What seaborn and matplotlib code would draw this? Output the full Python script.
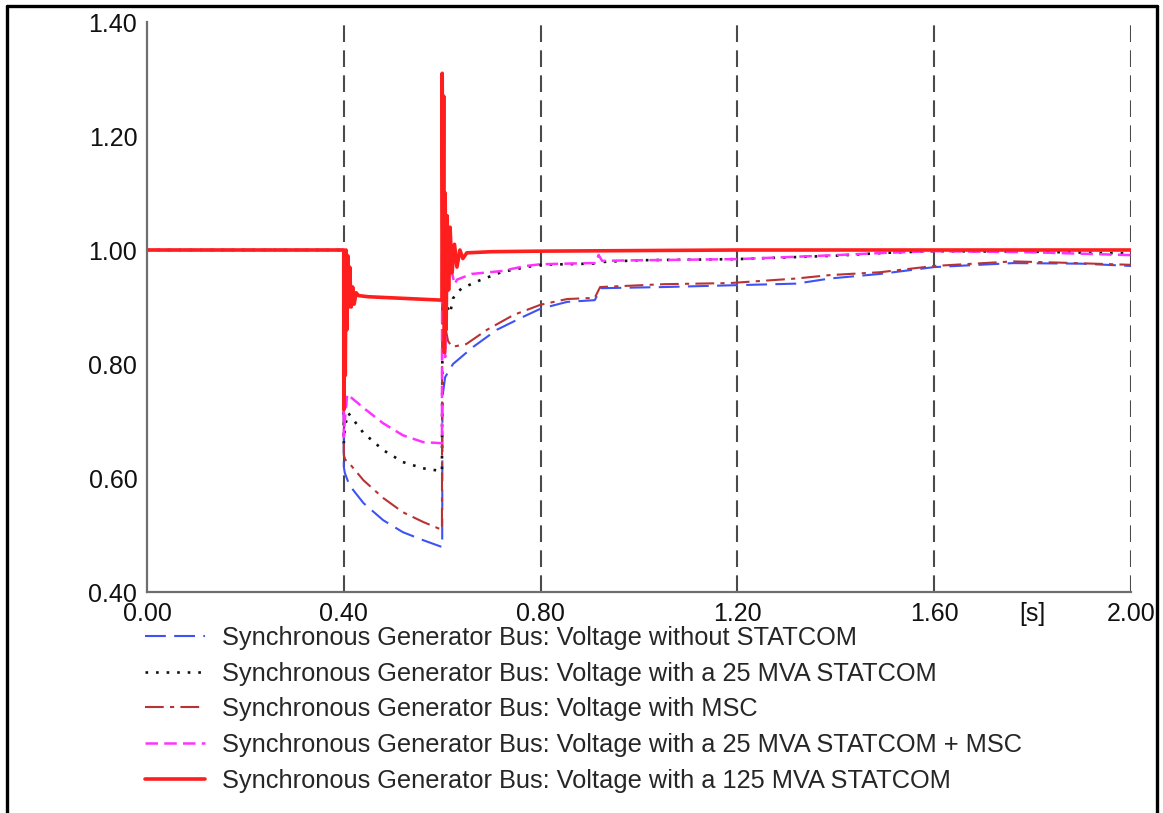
import numpy as np
import pandas as pd
import matplotlib
matplotlib.use("Agg")
import matplotlib.pyplot as plt
from matplotlib.lines import Line2D
import seaborn as sns

# Bus voltage (p.u.) versus time (s) for the five compensation cases
t_none = [0, 0.3999, 0.4, 0.402, 0.409, 0.419, 0.44, 0.48, 0.52, 0.561, 0.5995,
          0.6, 0.6005, 0.606, 0.622, 0.663, 0.711, 0.765, 0.8, 0.854, 0.91, 0.923,
          1.05, 1.185, 1.32, 1.388, 1.49, 1.6, 1.76, 1.9, 2.0]
v_none = [1.0, 1.0, 0.62, 0.609, 0.593, 0.579, 0.556, 0.526, 0.505, 0.491, 0.479,
          0.479, 0.742, 0.777, 0.80, 0.83, 0.86, 0.883, 0.897, 0.909, 0.912, 0.933,
          0.935, 0.938, 0.941, 0.95, 0.958, 0.97, 0.977, 0.976, 0.972]

t_st25 = [0, 0.3999, 0.4, 0.402, 0.405, 0.409, 0.44, 0.48, 0.52, 0.561, 0.5995,
          0.6, 0.6015, 0.605, 0.61, 0.616, 0.622, 0.63, 0.64, 0.677, 0.72, 0.77,
          0.8, 0.9, 0.912, 0.918, 0.925, 1.0, 1.2, 1.4, 1.5, 1.6, 1.8, 2.0]
v_st25 = [1.0, 1.0, 0.66, 0.69, 0.70, 0.714, 0.679, 0.649, 0.628, 0.617, 0.612,
          0.75, 1.035, 0.97, 0.90, 0.889, 0.915, 0.925, 0.933, 0.947, 0.961, 0.970,
          0.974, 0.976, 0.976, 0.990, 0.979, 0.982, 0.984, 0.990, 0.995, 0.998, 0.997, 0.994]

t_msc = [0, 0.3999, 0.4, 0.403, 0.409, 0.44, 0.48, 0.52, 0.561, 0.5995,
         0.6, 0.605, 0.612, 0.62, 0.649, 0.691, 0.745, 0.8, 0.854, 0.91, 0.921,
         1.05, 1.185, 1.32, 1.388, 1.49, 1.6, 1.76, 1.85, 2.0]
v_msc = [1.0, 1.0, 0.64, 0.632, 0.628, 0.596, 0.565, 0.54, 0.523, 0.509,
         0.97, 0.87, 0.84, 0.83, 0.835, 0.86, 0.886, 0.904, 0.914, 0.916, 0.935,
         0.94, 0.942, 0.95, 0.956, 0.961, 0.972, 0.98, 0.978, 0.974]

t_st25_msc = [0, 0.3999, 0.4, 0.402, 0.407, 0.44, 0.48, 0.52, 0.561, 0.5995,
              0.6, 0.603, 0.606, 0.609, 0.612, 0.62, 0.625, 0.63, 0.66, 0.72, 0.77,
              0.8, 0.9, 0.912, 0.918, 0.925, 1.0, 1.2, 1.4, 1.5, 1.6, 1.8, 2.0]
v_st25_msc = [1.0, 1.0, 0.672, 0.70, 0.747, 0.723, 0.696, 0.675, 0.663, 0.661,
              1.18, 0.95, 0.812, 0.92, 0.96, 0.96, 0.94, 0.948, 0.958, 0.963, 0.972,
              0.975, 0.977, 0.977, 0.991, 0.981, 0.982, 0.984, 0.991, 0.995, 0.998, 0.996, 0.991]

t_st125 = [0, 0.3999, 0.4, 0.4015, 0.403, 0.4045, 0.406, 0.408, 0.41, 0.412, 0.415,
           0.418, 0.421, 0.425, 0.43, 0.45, 0.5, 0.55, 0.5995, 0.6, 0.6015, 0.603,
           0.6045, 0.606, 0.608, 0.61, 0.613, 0.616, 0.62, 0.625, 0.63, 0.636, 0.642,
           0.65, 0.7, 0.8, 1.2, 2.0]
v_st125 = [1.0, 1.0, 0.72, 0.99, 0.78, 1.0, 0.86, 0.99, 0.90, 0.97, 0.90,
           0.935, 0.905, 0.925, 0.92, 0.918, 0.916, 0.914, 0.912, 1.31, 0.95, 1.27,
           0.82, 1.10, 0.86, 1.06, 0.93, 1.04, 0.96, 1.01, 0.97, 1.0, 0.985,
           0.995, 0.997, 0.998, 1.0, 1.0]

labels = [
    "Synchronous Generator Bus: Voltage without STATCOM",
    "Synchronous Generator Bus: Voltage with a 25 MVA STATCOM",
    "Synchronous Generator Bus: Voltage with MSC",
    "Synchronous Generator Bus: Voltage with a 25 MVA STATCOM + MSC",
    "Synchronous Generator Bus: Voltage with a 125 MVA STATCOM",
]

x_ticks = [0.0, 0.4, 0.8, 1.2, 1.6, 1.8, 2.0]
x_ticklabels = ["0.00", "0.40", "0.80", "1.20", "1.60", "[s]", "2.00"]
y_ticks = [0.4, 0.6, 0.8, 1.0, 1.2, 1.4]
y_ticklabels = ["0.40", "0.60", "0.80", "1.00", "1.20", "1.40"]

series = [
    (t_none, v_none, "#3f52f5", (0, (10, 4)), 1.5),
    (t_st25, v_st25, "#111111", (0, (1, 3)), 1.9),
    (t_msc, v_msc, "#b83434", (0, (9, 3, 2, 3)), 1.5),
    (t_st25_msc, v_st25_msc, "#ff33ff", (0, (5, 2.5)), 1.8),
    (t_st125, v_st125, "#ff1e1e", "-", 2.6),
]

sns.set_style("white")
plt.rcParams["font.family"] = ["Liberation Sans", "DejaVu Sans"]

fig = plt.figure(figsize=(11.63, 8.13), dpi=100)
ax = fig.add_axes([147 / 1163, 1 - 592 / 813, (1131 - 147) / 1163, (592 - 22) / 813])

for (t, v, color, ls, lw), lab in zip(series, labels):
    df = pd.DataFrame({"t": t, "v": v})
    sns.lineplot(data=df, x="t", y="v", ax=ax, color=color, linestyle=ls,
                 linewidth=lw, estimator=None, sort=False, label=lab, legend=False)

# vertical dashed guide lines at the labelled time ticks
for xv in [0.4, 0.8, 1.2, 1.6, 2.0]:
    ax.axvline(xv, color="#4a4a4a", linewidth=1.5, linestyle=(0, (8, 4)), zorder=0)

ax.set_xlim(0, 2.0)
ax.set_ylim(0.4, 1.4)
ax.set_xticks(x_ticks)
ax.set_xticklabels(x_ticklabels)
ax.set_xticks([0.2, 0.6, 1.0, 1.4], minor=True)
ax.set_yticks(y_ticks)
ax.set_yticklabels(y_ticklabels)
ax.set_yticks([0.5, 0.7, 0.9, 1.1, 1.3], minor=True)
ax.set_xlabel("")
ax.set_ylabel("")

for side in ["top", "right"]:
    ax.spines[side].set_visible(False)
for side in ["left", "bottom"]:
    ax.spines[side].set_color("#6e6e6e")
    ax.spines[side].set_linewidth(1.6)

ax.tick_params(axis="both", which="both", direction="in", color="#6e6e6e",
               width=1.2, labelsize=18, labelcolor="#111111", pad=7)
ax.tick_params(axis="both", which="major", length=5)
ax.tick_params(axis="both", which="minor", length=4)

handles = [Line2D([], [], color=c, linestyle=ls, linewidth=lw) for (_, _, c, ls, lw) in series]
fig.legend(handles, labels, loc="upper left", bbox_to_anchor=(145 / 1163, 1 - 626 / 813),
           frameon=False, fontsize=18.3, handlelength=2.36, handletextpad=0.67,
           labelspacing=0.46, borderpad=0, borderaxespad=0)

# outer frame of the figure
for xs, ys in [([7 / 1163, 7 / 1163], [0, 1 - 6 / 813]),
               ([7 / 1163, 1157 / 1163], [1 - 6 / 813, 1 - 6 / 813]),
               ([1157 / 1163, 1157 / 1163], [0, 1 - 6 / 813])]:
    fig.add_artist(Line2D(xs, ys, transform=fig.transFigure, color="black", linewidth=2.4))

fig.savefig("out.png", dpi=100, facecolor="white")
